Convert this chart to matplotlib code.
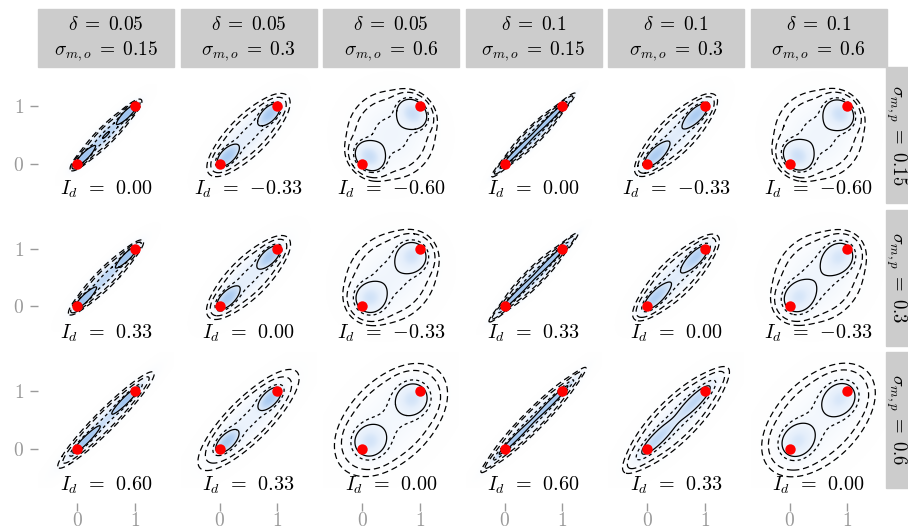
import numpy as np
import matplotlib
matplotlib.use("Agg")
import matplotlib.pyplot as plt
from matplotlib.colors import LinearSegmentedColormap

plt.rcParams['mathtext.fontset'] = 'cm'
plt.rcParams['font.family'] = ['DejaVu Serif']

# ---- facet labels / values ----
deltas = [0.05, 0.05, 0.05, 0.1, 0.1, 0.1]
sigma_o = [0.15, 0.3, 0.6, 0.15, 0.3, 0.6]
sigma_p = [0.15, 0.3, 0.6]
delta_labels = ['0.05', '0.05', '0.05', '0.1', '0.1', '0.1']
sigma_o_labels = ['0.15', '0.3', '0.6', '0.15', '0.3', '0.6']
sigma_p_labels = ['0.15', '0.3', '0.6']
I_d = [[0.00, -0.33, -0.60, 0.00, -0.33, -0.60],
       [0.33, 0.00, -0.33, 0.33, 0.00, -0.33],
       [0.60, 0.33, 0.00, 0.60, 0.33, 0.00]]
states = [0, 1]          # red points at (0,0) and (1,1)

# ---- shape of each panel's density ----
core_shift = [[0.12, 0.13, 0.12, 0.15, 0.14, 0.13],
              [0.12, 0.13, 0.13, 0.15, 0.14, 0.14],
              [0.13, 0.12, 0.13, 0.15, 0.15, 0.13]]
core_par = [[0.12, 0.13, 0.13, 0.22, 0.16, 0.14],
            [0.13, 0.14, 0.16, 0.24, 0.18, 0.18],
            [0.19, 0.14, 0.17, 0.28, 0.27, 0.19]]
core_perp = [[0.035, 0.07, 0.16, 0.03, 0.07, 0.165],
             [0.035, 0.07, 0.16, 0.03, 0.07, 0.16],
             [0.035, 0.07, 0.16, 0.03, 0.07, 0.16]]
halo_par = [[0.35, 0.44, 0.37, 0.34, 0.42, 0.37],
            [0.38, 0.44, 0.41, 0.38, 0.44, 0.40],
            [0.54, 0.56, 0.58, 0.54, 0.56, 0.58]]
halo_perp = [[0.075, 0.16, 0.37, 0.07, 0.15, 0.37],
             [0.080, 0.16, 0.35, 0.075, 0.15, 0.35],
             [0.085, 0.175, 0.35, 0.085, 0.175, 0.35]]
halo_weight = 0.5
hdr_probs = [0.95, 0.9, 0.7, 0.5]
hdr_styles = [(0, (5, 3)), (0, (5, 3)), (0, (2.5, 2.5)), 'solid']
label_y = [-0.44, -0.47, -0.64]

lim = (-0.68, 1.68)
W, H = 908, 531
fig = plt.figure(figsize=(W / 100, H / 100), dpi=100)

cmap = LinearSegmentedColormap.from_list('bl', ['#ffffff', '#e4eefb', '#9fc4ef'])

g = np.linspace(lim[0], lim[1], 320)
X, Y = np.meshgrid(g, g)
cell = (g[1] - g[0]) ** 2
s2 = np.sqrt(2)


def gauss2(u, v, sp, sq):
    return np.exp(-u ** 2 / (2 * sp ** 2) - v ** 2 / (2 * sq ** 2)) / (2 * np.pi * sp * sq)


panel_w, panel_h = 136, 136
step = 142.5
left0, top0 = 38, 67
grey = '#9a9a9a'

for r in range(3):
    for c in range(6):
        x0 = left0 + c * step
        y0 = top0 + r * step
        ax = fig.add_axes([x0 / W, (H - y0 - panel_h) / H, panel_w / W, panel_h / H])
        a = core_shift[r][c] * s2
        v0 = (X - Y) / s2
        u0 = (X + Y) / s2 - a
        u1 = (2 - X - Y) / s2 - a
        uh = (X + Y - 1) / s2
        cp, cq = core_par[r][c], core_perp[r][c]
        d = (1 - halo_weight) / 2 * (gauss2(u0, v0, cp, cq) + gauss2(u1, v0, cp, cq)) + \
            halo_weight * gauss2(uh, v0, halo_par[r][c], halo_perp[r][c])
        shade = 1 - np.exp(-d / 1.8)
        ax.imshow(shade, extent=(lim[0], lim[1], lim[0], lim[1]), origin='lower',
                  cmap=cmap, vmin=0, vmax=1, interpolation='bilinear', zorder=0)
        flat = np.sort(d.ravel())[::-1]
        cum = np.cumsum(flat) * cell
        cum /= cum[-1]
        levels = [flat[np.searchsorted(cum, p)] for p in hdr_probs]
        for lv, ls in zip(levels, hdr_styles):
            ax.contour(X, Y, d, levels=[lv], colors='black', linewidths=0.9,
                       linestyles=[ls], zorder=2)
        ax.plot(states, states, 'o', color='#ff0000', ms=7.5, mec='none', zorder=4)
        lab = f"{I_d[r][c]:.2f}".replace('-', '{-}')
        ax.text(0.5, label_y[r], r'$I_d\;\,=\;\,\mathtt{' + lab + '}$', ha='center',
                va='center', fontsize=14.5, clip_on=False, zorder=5)
        ax.set_xlim(lim)
        ax.set_ylim(lim)
        ax.set_aspect('auto')
        for sp in ax.spines.values():
            sp.set_visible(False)
        ax.set_xticks([0, 1])
        ax.set_yticks([0, 1])
        if c == 0:
            ax.set_yticklabels(['$0$', '$1$'])
            ax.tick_params(axis='y', length=6, width=1, color=grey, labelcolor=grey,
                           labelsize=14, pad=4)
        else:
            ax.tick_params(axis='y', length=0, labelleft=False)
        if r == 2:
            ax.spines['bottom'].set_position(('outward', 11))
            ax.set_xticklabels(['$0$', '$1$'])
            ax.tick_params(axis='x', length=5.5, width=1, color=grey, labelcolor=grey,
                           labelsize=14, pad=1)
        else:
            ax.tick_params(axis='x', length=0, labelbottom=False)
        # header strip
        if r == 0:
            fig.patches.append(plt.Rectangle((x0 / W, (H - 66.7) / H), panel_w / W, 58 / H,
                                             transform=fig.transFigure, color='#cccccc',
                                             zorder=0))
            fig.text((x0 + panel_w / 2) / W, (H - 25) / H, r'$\delta\;=\;' + delta_labels[c] + '$',
                     ha='center', va='center', fontsize=14)
            fig.text((x0 + panel_w / 2) / W, (H - 51) / H,
                     r'$\sigma_{m,o}\;=\;' + sigma_o_labels[c] + '$',
                     ha='center', va='center', fontsize=14)
        if c == 5:
            fig.patches.append(plt.Rectangle((886 / W, (H - y0 - panel_h) / H), 24 / W, panel_h / H,
                                             transform=fig.transFigure, color='#cccccc',
                                             zorder=0))
            fig.text(896 / W, (H - y0 - panel_h / 2) / H,
                     r'$\sigma_{m,p}\;=\;' + sigma_p_labels[r] + '$',
                     ha='center', va='center', fontsize=13.5, rotation=-90,
                     rotation_mode='anchor')

fig.savefig('out.png', dpi=100)
